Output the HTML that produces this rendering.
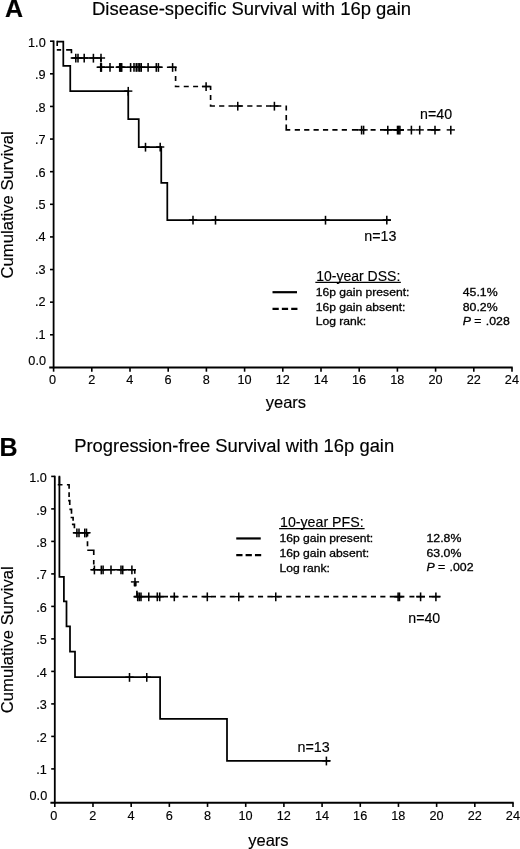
<!DOCTYPE html>
<html><head><meta charset="utf-8"><title>Survival with 16p gain</title>
<style>html,body{margin:0;padding:0;background:#fff;}body{width:520px;height:849px;overflow:hidden;font-family:"Liberation Sans", sans-serif;}svg{display:block;position:absolute;left:0;top:0;will-change:transform;}text{font-family:"Liberation Sans", sans-serif;fill:#000;stroke:#000;stroke-width:0.15px;}</style>
</head><body>
<svg width="520" height="849" viewBox="0 0 520 849">
<rect width="520" height="849" fill="#fff"/>
<path d="M53.6 40.6V368.3" stroke="#000" stroke-width="1.8" fill="none"/>
<path d="M49.2 367.5H512.7" stroke="#000" stroke-width="1.8" fill="none"/>
<path d="M50.0 334.78H53.6" stroke="#000" stroke-width="1.6" fill="none"/>
<text x="45.7" y="338.55" font-size="12.7" text-anchor="end" font-weight="normal" font-style="normal" >.1</text>
<path d="M50.0 302.16H53.6" stroke="#000" stroke-width="1.6" fill="none"/>
<text x="45.7" y="306.15" font-size="12.7" text-anchor="end" font-weight="normal" font-style="normal" >.2</text>
<path d="M50.0 269.54H53.6" stroke="#000" stroke-width="1.6" fill="none"/>
<text x="45.7" y="273.75" font-size="12.7" text-anchor="end" font-weight="normal" font-style="normal" >.3</text>
<path d="M50.0 236.92H53.6" stroke="#000" stroke-width="1.6" fill="none"/>
<text x="45.7" y="241.35" font-size="12.7" text-anchor="end" font-weight="normal" font-style="normal" >.4</text>
<path d="M50.0 204.30H53.6" stroke="#000" stroke-width="1.6" fill="none"/>
<text x="45.7" y="208.95" font-size="12.7" text-anchor="end" font-weight="normal" font-style="normal" >.5</text>
<path d="M50.0 171.68H53.6" stroke="#000" stroke-width="1.6" fill="none"/>
<text x="45.7" y="176.55" font-size="12.7" text-anchor="end" font-weight="normal" font-style="normal" >.6</text>
<path d="M50.0 139.06H53.6" stroke="#000" stroke-width="1.6" fill="none"/>
<text x="45.7" y="144.15" font-size="12.7" text-anchor="end" font-weight="normal" font-style="normal" >.7</text>
<path d="M50.0 106.44H53.6" stroke="#000" stroke-width="1.6" fill="none"/>
<text x="45.7" y="111.75" font-size="12.7" text-anchor="end" font-weight="normal" font-style="normal" >.8</text>
<path d="M50.0 73.82H53.6" stroke="#000" stroke-width="1.6" fill="none"/>
<text x="45.7" y="79.35" font-size="12.7" text-anchor="end" font-weight="normal" font-style="normal" >.9</text>
<path d="M50.0 41.20H53.6" stroke="#000" stroke-width="1.6" fill="none"/>
<text x="45.7" y="46.95" font-size="12.7" text-anchor="end" font-weight="normal" font-style="normal" >1.0</text>
<text x="46.0" y="364.7" font-size="12.7" text-anchor="end" font-weight="normal" font-style="normal" >0.0</text>
<path d="M53.60 367.5V371.7" stroke="#000" stroke-width="1.6" fill="none"/>
<text x="52.50" y="384.35" font-size="12.7" text-anchor="middle" font-weight="normal" font-style="normal" >0</text>
<path d="M91.80 367.5V371.7" stroke="#000" stroke-width="1.6" fill="none"/>
<text x="91.70" y="384.35" font-size="12.7" text-anchor="middle" font-weight="normal" font-style="normal" >2</text>
<path d="M130.00 367.5V371.7" stroke="#000" stroke-width="1.6" fill="none"/>
<text x="129.90" y="384.35" font-size="12.7" text-anchor="middle" font-weight="normal" font-style="normal" >4</text>
<path d="M168.20 367.5V371.7" stroke="#000" stroke-width="1.6" fill="none"/>
<text x="168.10" y="384.35" font-size="12.7" text-anchor="middle" font-weight="normal" font-style="normal" >6</text>
<path d="M206.40 367.5V371.7" stroke="#000" stroke-width="1.6" fill="none"/>
<text x="206.30" y="384.35" font-size="12.7" text-anchor="middle" font-weight="normal" font-style="normal" >8</text>
<path d="M244.60 367.5V371.7" stroke="#000" stroke-width="1.6" fill="none"/>
<text x="244.50" y="384.35" font-size="12.7" text-anchor="middle" font-weight="normal" font-style="normal" >10</text>
<path d="M282.80 367.5V371.7" stroke="#000" stroke-width="1.6" fill="none"/>
<text x="282.70" y="384.35" font-size="12.7" text-anchor="middle" font-weight="normal" font-style="normal" >12</text>
<path d="M321.00 367.5V371.7" stroke="#000" stroke-width="1.6" fill="none"/>
<text x="320.90" y="384.35" font-size="12.7" text-anchor="middle" font-weight="normal" font-style="normal" >14</text>
<path d="M359.20 367.5V371.7" stroke="#000" stroke-width="1.6" fill="none"/>
<text x="359.10" y="384.35" font-size="12.7" text-anchor="middle" font-weight="normal" font-style="normal" >16</text>
<path d="M397.40 367.5V371.7" stroke="#000" stroke-width="1.6" fill="none"/>
<text x="397.30" y="384.35" font-size="12.7" text-anchor="middle" font-weight="normal" font-style="normal" >18</text>
<path d="M435.60 367.5V371.7" stroke="#000" stroke-width="1.6" fill="none"/>
<text x="435.50" y="384.35" font-size="12.7" text-anchor="middle" font-weight="normal" font-style="normal" >20</text>
<path d="M473.80 367.5V371.7" stroke="#000" stroke-width="1.6" fill="none"/>
<text x="473.70" y="384.35" font-size="12.7" text-anchor="middle" font-weight="normal" font-style="normal" >22</text>
<path d="M512.00 367.5V371.7" stroke="#000" stroke-width="1.6" fill="none"/>
<text x="511.90" y="384.35" font-size="12.7" text-anchor="middle" font-weight="normal" font-style="normal" >24</text>
<text x="92.0" y="14.8" font-size="17.6" text-anchor="start" font-weight="normal" font-style="normal" textLength="319.0" lengthAdjust="spacingAndGlyphs">Disease-specific Survival with 16p gain</text>
<text x="5" y="17.0" font-size="25" text-anchor="start" font-weight="bold" font-style="normal" >A</text>
<text transform="translate(13.0 204.9) rotate(-90)" font-size="16.9" text-anchor="middle" textLength="147.0" lengthAdjust="spacingAndGlyphs">Cumulative Survival</text>
<text x="285.9" y="408" font-size="16.5" text-anchor="middle" font-weight="normal" font-style="normal" >years</text>
<path d="M57.20 41.60L63.30 41.60L63.30 65.90L70.25 65.90L70.25 91.10L128.25 91.10L128.25 119.00L138.75 119.00L138.75 147.00L161.25 147.00L161.25 182.80L167.30 182.80L167.30 220.00L390.90 220.00" stroke="#000" stroke-width="1.75" fill="none"/>
<path d="M124.15 91.10H132.35" stroke="#000" stroke-width="1.45" fill="none"/><path d="M128.25 86.90V95.70" stroke="#000" stroke-width="1.55" fill="none"/>
<path d="M141.40 147.00H149.60" stroke="#000" stroke-width="1.45" fill="none"/><path d="M145.50 142.80V151.60" stroke="#000" stroke-width="1.55" fill="none"/>
<path d="M156.10 147.00H164.30" stroke="#000" stroke-width="1.45" fill="none"/><path d="M160.20 142.80V151.60" stroke="#000" stroke-width="1.55" fill="none"/>
<path d="M188.90 220.00H197.10" stroke="#000" stroke-width="1.45" fill="none"/><path d="M193.00 215.80V224.60" stroke="#000" stroke-width="1.55" fill="none"/>
<path d="M211.40 220.00H219.60" stroke="#000" stroke-width="1.45" fill="none"/><path d="M215.50 215.80V224.60" stroke="#000" stroke-width="1.55" fill="none"/>
<path d="M321.40 220.00H329.60" stroke="#000" stroke-width="1.45" fill="none"/><path d="M325.50 215.80V224.60" stroke="#000" stroke-width="1.55" fill="none"/>
<path d="M382.70 220.00H390.90" stroke="#000" stroke-width="1.45" fill="none"/><path d="M386.80 215.80V224.60" stroke="#000" stroke-width="1.55" fill="none"/>
<path d="M57.20 40.70V46.00M56.80 49.80H61.15M66.15 49.80H72.20M71.45 49.80V53.20M70.70 58.00H101.00M101.00 58.00V61.60M101.00 63.80V67.25M100.20 67.25H113.90M116.00 67.25H162.50M166.90 67.25H176.40M175.60 67.25V71.20M175.60 76.10V81.10M175.60 85.60V86.50M174.75 86.50H179.40M183.75 86.50H188.75M193.10 86.50H198.10M201.90 86.50H211.40M210.60 86.50V89.90M210.60 94.90V99.90M210.60 104.40V106.00M209.75 106.00H214.95M219.12 106.00H224.32M228.49 106.00H233.69M237.86 106.00H243.06M247.23 106.00H252.43M256.60 106.00H261.80M265.97 106.00H271.17M275.30 106.00H281.30M286.25 105.50V110.60M286.25 114.90V120.25M286.25 124.50V130.75M285.40 129.90H290.25M294.75 129.90H299.95M304.15 129.90H309.35M313.55 129.90H318.75M322.95 129.90H328.15M332.35 129.90H337.55M341.75 129.90H346.95M351.90 129.90H358.00M370.60 129.90H375.60M380.00 129.90H404.00M427.30 129.90H440.40" stroke="#000" stroke-width="1.65" fill="none"/>
<path d="M71.70 58.00H79.90" stroke="#000" stroke-width="1.45" fill="none"/><path d="M75.80 53.80V62.60" stroke="#000" stroke-width="1.55" fill="none"/>
<path d="M73.90 58.00H82.10" stroke="#000" stroke-width="1.45" fill="none"/><path d="M78.00 53.80V62.60" stroke="#000" stroke-width="1.55" fill="none"/>
<path d="M80.10 58.00H88.30" stroke="#000" stroke-width="1.45" fill="none"/><path d="M84.20 53.80V62.60" stroke="#000" stroke-width="1.55" fill="none"/>
<path d="M89.30 58.00H97.50" stroke="#000" stroke-width="1.45" fill="none"/><path d="M93.40 53.80V62.60" stroke="#000" stroke-width="1.55" fill="none"/>
<path d="M96.90 58.00H105.10" stroke="#000" stroke-width="1.45" fill="none"/><path d="M101.00 53.80V62.60" stroke="#000" stroke-width="1.55" fill="none"/>
<path d="M96.60 67.25H104.80" stroke="#000" stroke-width="1.45" fill="none"/><path d="M100.70 63.05V71.85" stroke="#000" stroke-width="1.55" fill="none"/>
<path d="M97.30 67.25H105.50" stroke="#000" stroke-width="1.45" fill="none"/><path d="M101.40 63.05V71.85" stroke="#000" stroke-width="1.55" fill="none"/>
<path d="M105.90 67.25H114.10" stroke="#000" stroke-width="1.45" fill="none"/><path d="M110.00 63.05V71.85" stroke="#000" stroke-width="1.55" fill="none"/>
<path d="M115.60 67.25H123.80" stroke="#000" stroke-width="1.45" fill="none"/><path d="M119.70 63.05V71.85" stroke="#000" stroke-width="1.55" fill="none"/>
<path d="M116.60 67.25H124.80" stroke="#000" stroke-width="1.45" fill="none"/><path d="M120.70 63.05V71.85" stroke="#000" stroke-width="1.55" fill="none"/>
<path d="M117.60 67.25H125.80" stroke="#000" stroke-width="1.45" fill="none"/><path d="M121.70 63.05V71.85" stroke="#000" stroke-width="1.55" fill="none"/>
<path d="M126.50 67.25H134.70" stroke="#000" stroke-width="1.45" fill="none"/><path d="M130.60 63.05V71.85" stroke="#000" stroke-width="1.55" fill="none"/>
<path d="M129.90 67.25H138.10" stroke="#000" stroke-width="1.45" fill="none"/><path d="M134.00 63.05V71.85" stroke="#000" stroke-width="1.55" fill="none"/>
<path d="M132.15 67.25H140.35" stroke="#000" stroke-width="1.45" fill="none"/><path d="M136.25 63.05V71.85" stroke="#000" stroke-width="1.55" fill="none"/>
<path d="M134.00 67.25H142.20" stroke="#000" stroke-width="1.45" fill="none"/><path d="M138.10 63.05V71.85" stroke="#000" stroke-width="1.55" fill="none"/>
<path d="M135.65 67.25H143.85" stroke="#000" stroke-width="1.45" fill="none"/><path d="M139.75 63.05V71.85" stroke="#000" stroke-width="1.55" fill="none"/>
<path d="M137.15 67.25H145.35" stroke="#000" stroke-width="1.45" fill="none"/><path d="M141.25 63.05V71.85" stroke="#000" stroke-width="1.55" fill="none"/>
<path d="M144.00 67.25H152.20" stroke="#000" stroke-width="1.45" fill="none"/><path d="M148.10 63.05V71.85" stroke="#000" stroke-width="1.55" fill="none"/>
<path d="M152.20 67.25H160.40" stroke="#000" stroke-width="1.45" fill="none"/><path d="M156.30 63.05V71.85" stroke="#000" stroke-width="1.55" fill="none"/>
<path d="M154.30 67.25H162.50" stroke="#000" stroke-width="1.45" fill="none"/><path d="M158.40 63.05V71.85" stroke="#000" stroke-width="1.55" fill="none"/>
<path d="M168.50 67.25H176.70" stroke="#000" stroke-width="1.45" fill="none"/><path d="M172.60 63.05V71.85" stroke="#000" stroke-width="1.55" fill="none"/>
<path d="M202.00 86.50H210.20" stroke="#000" stroke-width="1.45" fill="none"/><path d="M206.10 82.30V91.10" stroke="#000" stroke-width="1.55" fill="none"/>
<path d="M233.65 106.00H241.85" stroke="#000" stroke-width="1.45" fill="none"/><path d="M237.75 101.80V110.60" stroke="#000" stroke-width="1.55" fill="none"/>
<path d="M270.30 106.00H278.50" stroke="#000" stroke-width="1.45" fill="none"/><path d="M274.40 101.80V110.60" stroke="#000" stroke-width="1.55" fill="none"/>
<path d="M357.50 129.90H365.70" stroke="#000" stroke-width="1.45" fill="none"/><path d="M361.60 125.70V134.50" stroke="#000" stroke-width="1.55" fill="none"/>
<path d="M359.50 129.90H367.70" stroke="#000" stroke-width="1.45" fill="none"/><path d="M363.60 125.70V134.50" stroke="#000" stroke-width="1.55" fill="none"/>
<path d="M383.70 129.90H391.90" stroke="#000" stroke-width="1.45" fill="none"/><path d="M387.80 125.70V134.50" stroke="#000" stroke-width="1.55" fill="none"/>
<path d="M393.40 129.90H401.60" stroke="#000" stroke-width="1.45" fill="none"/><path d="M397.50 125.70V134.50" stroke="#000" stroke-width="1.55" fill="none"/>
<path d="M394.60 129.90H402.80" stroke="#000" stroke-width="1.45" fill="none"/><path d="M398.70 125.70V134.50" stroke="#000" stroke-width="1.55" fill="none"/>
<path d="M395.80 129.90H404.00" stroke="#000" stroke-width="1.45" fill="none"/><path d="M399.90 125.70V134.50" stroke="#000" stroke-width="1.55" fill="none"/>
<path d="M407.30 129.90H415.50" stroke="#000" stroke-width="1.45" fill="none"/><path d="M411.40 125.70V134.50" stroke="#000" stroke-width="1.55" fill="none"/>
<path d="M415.60 129.90H423.80" stroke="#000" stroke-width="1.45" fill="none"/><path d="M419.70 125.70V134.50" stroke="#000" stroke-width="1.55" fill="none"/>
<path d="M430.90 129.90H439.10" stroke="#000" stroke-width="1.45" fill="none"/><path d="M435.00 125.70V134.50" stroke="#000" stroke-width="1.55" fill="none"/>
<path d="M446.70 129.90H454.90" stroke="#000" stroke-width="1.45" fill="none"/><path d="M450.80 125.70V134.50" stroke="#000" stroke-width="1.55" fill="none"/>
<text x="420.1" y="118.5" font-size="14.2" text-anchor="start" font-weight="normal" font-style="normal" >n=40</text>
<text x="364.3" y="241.4" font-size="14.3" text-anchor="start" font-weight="normal" font-style="normal" >n=13</text>
<text x="316.25" y="280.5" font-size="14" text-anchor="start" font-weight="normal" font-style="normal" >10-year DSS:</text>
<path d="M315.35 282.35H400.85" stroke="#000" stroke-width="1.1" fill="none"/>
<text transform="translate(315.65 295.65) scale(1.075 1)" font-size="11.3" style="stroke-width:0.3px">16p gain present:</text>
<text transform="translate(315.65 310.7) scale(1.075 1)" font-size="11.3" style="stroke-width:0.3px">16p gain absent:</text>
<text transform="translate(315.65 325.3) scale(1.075 1)" font-size="11.3" style="stroke-width:0.3px">Log rank:</text>
<text transform="translate(462.75 295.6) scale(1.075 1)" font-size="11.45" style="stroke-width:0.3px">45.1%</text>
<text transform="translate(462.75 310.5) scale(1.075 1)" font-size="11.45" style="stroke-width:0.3px">80.2%</text>
<text transform="translate(462.75 325.1) scale(1.075 1)" font-size="11.45" style="stroke-width:0.3px"><tspan font-style="italic">P</tspan> = <tspan dx="0.8">.028</tspan></text>
<path d="M272.5 292.2H297.0" stroke="#000" stroke-width="2.2" fill="none"/>
<path d="M272.5 308.8H297.5" stroke="#000" stroke-width="2.2" fill="none" stroke-dasharray="6.25 3.1"/>
<path d="M54.8 475.79999999999995V803.55" stroke="#000" stroke-width="1.8" fill="none"/>
<path d="M50.4 802.75H513.7" stroke="#000" stroke-width="1.8" fill="none"/>
<path d="M51.199999999999996 768.90H54.8" stroke="#000" stroke-width="1.6" fill="none"/>
<text x="46.9" y="773.93" font-size="12.7" text-anchor="end" font-weight="normal" font-style="normal" >.1</text>
<path d="M51.199999999999996 736.40H54.8" stroke="#000" stroke-width="1.6" fill="none"/>
<text x="46.9" y="741.51" font-size="12.7" text-anchor="end" font-weight="normal" font-style="normal" >.2</text>
<path d="M51.199999999999996 703.90H54.8" stroke="#000" stroke-width="1.6" fill="none"/>
<text x="46.9" y="709.09" font-size="12.7" text-anchor="end" font-weight="normal" font-style="normal" >.3</text>
<path d="M51.199999999999996 671.40H54.8" stroke="#000" stroke-width="1.6" fill="none"/>
<text x="46.9" y="676.67" font-size="12.7" text-anchor="end" font-weight="normal" font-style="normal" >.4</text>
<path d="M51.199999999999996 638.90H54.8" stroke="#000" stroke-width="1.6" fill="none"/>
<text x="46.9" y="644.25" font-size="12.7" text-anchor="end" font-weight="normal" font-style="normal" >.5</text>
<path d="M51.199999999999996 606.40H54.8" stroke="#000" stroke-width="1.6" fill="none"/>
<text x="46.9" y="611.83" font-size="12.7" text-anchor="end" font-weight="normal" font-style="normal" >.6</text>
<path d="M51.199999999999996 573.90H54.8" stroke="#000" stroke-width="1.6" fill="none"/>
<text x="46.9" y="579.41" font-size="12.7" text-anchor="end" font-weight="normal" font-style="normal" >.7</text>
<path d="M51.199999999999996 541.40H54.8" stroke="#000" stroke-width="1.6" fill="none"/>
<text x="46.9" y="546.99" font-size="12.7" text-anchor="end" font-weight="normal" font-style="normal" >.8</text>
<path d="M51.199999999999996 508.90H54.8" stroke="#000" stroke-width="1.6" fill="none"/>
<text x="46.9" y="514.57" font-size="12.7" text-anchor="end" font-weight="normal" font-style="normal" >.9</text>
<path d="M51.199999999999996 476.40H54.8" stroke="#000" stroke-width="1.6" fill="none"/>
<text x="46.9" y="482.15" font-size="12.7" text-anchor="end" font-weight="normal" font-style="normal" >1.0</text>
<text x="47.199999999999996" y="799.6" font-size="12.7" text-anchor="end" font-weight="normal" font-style="normal" >0.0</text>
<path d="M54.80 802.75V806.95" stroke="#000" stroke-width="1.6" fill="none"/>
<text x="53.70" y="819.7" font-size="12.7" text-anchor="middle" font-weight="normal" font-style="normal" >0</text>
<path d="M92.98 802.75V806.95" stroke="#000" stroke-width="1.6" fill="none"/>
<text x="92.88" y="819.7" font-size="12.7" text-anchor="middle" font-weight="normal" font-style="normal" >2</text>
<path d="M131.17 802.75V806.95" stroke="#000" stroke-width="1.6" fill="none"/>
<text x="131.07" y="819.7" font-size="12.7" text-anchor="middle" font-weight="normal" font-style="normal" >4</text>
<path d="M169.35 802.75V806.95" stroke="#000" stroke-width="1.6" fill="none"/>
<text x="169.25" y="819.7" font-size="12.7" text-anchor="middle" font-weight="normal" font-style="normal" >6</text>
<path d="M207.53 802.75V806.95" stroke="#000" stroke-width="1.6" fill="none"/>
<text x="207.43" y="819.7" font-size="12.7" text-anchor="middle" font-weight="normal" font-style="normal" >8</text>
<path d="M245.72 802.75V806.95" stroke="#000" stroke-width="1.6" fill="none"/>
<text x="245.62" y="819.7" font-size="12.7" text-anchor="middle" font-weight="normal" font-style="normal" >10</text>
<path d="M283.90 802.75V806.95" stroke="#000" stroke-width="1.6" fill="none"/>
<text x="283.80" y="819.7" font-size="12.7" text-anchor="middle" font-weight="normal" font-style="normal" >12</text>
<path d="M322.08 802.75V806.95" stroke="#000" stroke-width="1.6" fill="none"/>
<text x="321.98" y="819.7" font-size="12.7" text-anchor="middle" font-weight="normal" font-style="normal" >14</text>
<path d="M360.27 802.75V806.95" stroke="#000" stroke-width="1.6" fill="none"/>
<text x="360.17" y="819.7" font-size="12.7" text-anchor="middle" font-weight="normal" font-style="normal" >16</text>
<path d="M398.45 802.75V806.95" stroke="#000" stroke-width="1.6" fill="none"/>
<text x="398.35" y="819.7" font-size="12.7" text-anchor="middle" font-weight="normal" font-style="normal" >18</text>
<path d="M436.63 802.75V806.95" stroke="#000" stroke-width="1.6" fill="none"/>
<text x="436.53" y="819.7" font-size="12.7" text-anchor="middle" font-weight="normal" font-style="normal" >20</text>
<path d="M474.82 802.75V806.95" stroke="#000" stroke-width="1.6" fill="none"/>
<text x="474.72" y="819.7" font-size="12.7" text-anchor="middle" font-weight="normal" font-style="normal" >22</text>
<path d="M513.00 802.75V806.95" stroke="#000" stroke-width="1.6" fill="none"/>
<text x="512.90" y="819.7" font-size="12.7" text-anchor="middle" font-weight="normal" font-style="normal" >24</text>
<text x="74.2" y="451.75" font-size="17.6" text-anchor="start" font-weight="normal" font-style="normal" textLength="320.0" lengthAdjust="spacingAndGlyphs">Progression-free Survival with 16p gain</text>
<text x="-0.5" y="456.2" font-size="25" text-anchor="start" font-weight="bold" font-style="normal" >B</text>
<text transform="translate(13.0 639.7) rotate(-90)" font-size="16.9" text-anchor="middle" textLength="147.0" lengthAdjust="spacingAndGlyphs">Cumulative Survival</text>
<text x="268.4" y="845.5" font-size="16.5" text-anchor="middle" font-weight="normal" font-style="normal" >years</text>
<path d="M59.40 476.50L59.40 576.90L63.90 576.90L63.90 601.40L66.50 601.40L66.50 626.30L70.00 626.30L70.00 651.70L75.00 651.70L75.00 677.20L160.10 677.20L160.10 718.80L227.00 718.80L227.00 760.80L330.30 760.80" stroke="#000" stroke-width="1.75" fill="none"/>
<path d="M125.40 677.20H133.60" stroke="#000" stroke-width="1.45" fill="none"/><path d="M129.50 673.00V681.80" stroke="#000" stroke-width="1.55" fill="none"/>
<path d="M142.65 677.20H150.85" stroke="#000" stroke-width="1.45" fill="none"/><path d="M146.75 673.00V681.80" stroke="#000" stroke-width="1.55" fill="none"/>
<path d="M322.30 760.80H330.50" stroke="#000" stroke-width="1.45" fill="none"/><path d="M326.40 756.60V765.40" stroke="#000" stroke-width="1.55" fill="none"/>
<path d="M59.40 475.70V484.75M57.75 484.75H62.50M66.90 484.75H69.90M69.10 484.75V488.75M69.10 492.25V496.90M68.10 500.60H70.60M69.75 500.60V505.00M69.40 509.40H72.35M71.50 509.40V513.75M70.60 517.50H73.95M73.10 517.50V520.80M71.90 524.40H75.25M74.40 524.40V528.20M73.10 532.75H89.75M87.50 532.75V536.50M87.50 541.25V546.25M87.25 550.25H94.60M93.75 550.25V555.00M93.75 560.00V564.40M93.75 568.00V569.75M91.25 569.75H135.60M134.75 569.75V573.75M134.50 582.60V586.30M135.80 581.90V586.30M136.90 590.70V596.65M133.75 596.65H168.00M170.20 596.65H178.30M182.70 596.65H187.80M192.11 596.65H197.21M201.52 596.65H206.62M210.93 596.65H216.03M220.34 596.65H225.44M229.75 596.65H234.85M239.16 596.65H244.26M248.57 596.65H253.67M257.98 596.65H263.08M267.39 596.65H272.49M276.80 596.65H281.90M286.21 596.65H291.31M295.62 596.65H300.72M305.03 596.65H310.13M314.44 596.65H319.54M323.85 596.65H328.95M333.26 596.65H338.36M342.67 596.65H347.77M352.08 596.65H357.18M361.49 596.65H366.59M370.90 596.65H376.00M380.31 596.65H385.41M389.72 596.65H390.00M390.00 596.65H404.40M409.40 596.65H414.40M416.25 596.65H425.00M429.00 596.65H440.60" stroke="#000" stroke-width="1.65" fill="none"/>
<path d="M72.80 532.75H81.00" stroke="#000" stroke-width="1.45" fill="none"/><path d="M76.90 528.55V537.35" stroke="#000" stroke-width="1.55" fill="none"/>
<path d="M74.90 532.75H83.10" stroke="#000" stroke-width="1.45" fill="none"/><path d="M79.00 528.55V537.35" stroke="#000" stroke-width="1.55" fill="none"/>
<path d="M80.65 532.75H88.85" stroke="#000" stroke-width="1.45" fill="none"/><path d="M84.75 528.55V537.35" stroke="#000" stroke-width="1.55" fill="none"/>
<path d="M82.40 532.75H90.60" stroke="#000" stroke-width="1.45" fill="none"/><path d="M86.50 528.55V537.35" stroke="#000" stroke-width="1.55" fill="none"/>
<path d="M90.30 569.75H98.50" stroke="#000" stroke-width="1.45" fill="none"/><path d="M94.40 565.55V574.35" stroke="#000" stroke-width="1.55" fill="none"/>
<path d="M97.20 569.75H105.40" stroke="#000" stroke-width="1.45" fill="none"/><path d="M101.30 565.55V574.35" stroke="#000" stroke-width="1.55" fill="none"/>
<path d="M99.00 569.75H107.20" stroke="#000" stroke-width="1.45" fill="none"/><path d="M103.10 565.55V574.35" stroke="#000" stroke-width="1.55" fill="none"/>
<path d="M106.90 569.75H115.10" stroke="#000" stroke-width="1.45" fill="none"/><path d="M111.00 565.55V574.35" stroke="#000" stroke-width="1.55" fill="none"/>
<path d="M116.90 569.75H125.10" stroke="#000" stroke-width="1.45" fill="none"/><path d="M121.00 565.55V574.35" stroke="#000" stroke-width="1.55" fill="none"/>
<path d="M118.65 569.75H126.85" stroke="#000" stroke-width="1.45" fill="none"/><path d="M122.75 565.55V574.35" stroke="#000" stroke-width="1.55" fill="none"/>
<path d="M127.80 569.75H136.00" stroke="#000" stroke-width="1.45" fill="none"/><path d="M131.90 565.55V574.35" stroke="#000" stroke-width="1.55" fill="none"/>
<path d="M130.90 581.90H139.10" stroke="#000" stroke-width="1.45" fill="none"/><path d="M135.00 577.70V586.50" stroke="#000" stroke-width="1.55" fill="none"/>
<path d="M133.60 596.65H141.80" stroke="#000" stroke-width="1.45" fill="none"/><path d="M137.70 592.45V601.25" stroke="#000" stroke-width="1.55" fill="none"/>
<path d="M135.20 596.65H143.40" stroke="#000" stroke-width="1.45" fill="none"/><path d="M139.30 592.45V601.25" stroke="#000" stroke-width="1.55" fill="none"/>
<path d="M136.90 596.65H145.10" stroke="#000" stroke-width="1.45" fill="none"/><path d="M141.00 592.45V601.25" stroke="#000" stroke-width="1.55" fill="none"/>
<path d="M144.65 596.65H152.85" stroke="#000" stroke-width="1.45" fill="none"/><path d="M148.75 592.45V601.25" stroke="#000" stroke-width="1.55" fill="none"/>
<path d="M153.20 596.65H161.40" stroke="#000" stroke-width="1.45" fill="none"/><path d="M157.30 592.45V601.25" stroke="#000" stroke-width="1.55" fill="none"/>
<path d="M155.60 596.65H163.80" stroke="#000" stroke-width="1.45" fill="none"/><path d="M159.70 592.45V601.25" stroke="#000" stroke-width="1.55" fill="none"/>
<path d="M170.20 596.65H178.40" stroke="#000" stroke-width="1.45" fill="none"/><path d="M174.30 592.45V601.25" stroke="#000" stroke-width="1.55" fill="none"/>
<path d="M203.20 596.65H211.40" stroke="#000" stroke-width="1.45" fill="none"/><path d="M207.30 592.45V601.25" stroke="#000" stroke-width="1.55" fill="none"/>
<path d="M234.65 596.65H242.85" stroke="#000" stroke-width="1.45" fill="none"/><path d="M238.75 592.45V601.25" stroke="#000" stroke-width="1.55" fill="none"/>
<path d="M271.65 596.65H279.85" stroke="#000" stroke-width="1.45" fill="none"/><path d="M275.75 592.45V601.25" stroke="#000" stroke-width="1.55" fill="none"/>
<path d="M394.00 596.65H402.20" stroke="#000" stroke-width="1.45" fill="none"/><path d="M398.10 592.45V601.25" stroke="#000" stroke-width="1.55" fill="none"/>
<path d="M395.40 596.65H403.60" stroke="#000" stroke-width="1.45" fill="none"/><path d="M399.50 592.45V601.25" stroke="#000" stroke-width="1.55" fill="none"/>
<path d="M416.50 596.65H424.70" stroke="#000" stroke-width="1.45" fill="none"/><path d="M420.60 592.45V601.25" stroke="#000" stroke-width="1.55" fill="none"/>
<path d="M431.80 596.65H440.00" stroke="#000" stroke-width="1.45" fill="none"/><path d="M435.90 592.45V601.25" stroke="#000" stroke-width="1.55" fill="none"/>
<text x="408.3" y="623.3" font-size="14.2" text-anchor="start" font-weight="normal" font-style="normal" >n=40</text>
<text x="297.5" y="751.9" font-size="14.3" text-anchor="start" font-weight="normal" font-style="normal" >n=13</text>
<text x="280" y="526.75" font-size="14.2" text-anchor="start" font-weight="normal" font-style="normal" >10-year PFS:</text>
<path d="M279.1 528.6H364.6" stroke="#000" stroke-width="1.1" fill="none"/>
<text transform="translate(279.40 541.9) scale(1.075 1)" font-size="11.3" style="stroke-width:0.3px">16p gain present:</text>
<text transform="translate(279.40 556.95) scale(1.075 1)" font-size="11.3" style="stroke-width:0.3px">16p gain absent:</text>
<text transform="translate(279.40 571.55) scale(1.075 1)" font-size="11.3" style="stroke-width:0.3px">Log rank:</text>
<text transform="translate(426.50 541.85) scale(1.075 1)" font-size="11.45" style="stroke-width:0.3px">12.8%</text>
<text transform="translate(426.50 556.75) scale(1.075 1)" font-size="11.45" style="stroke-width:0.3px">63.0%</text>
<text transform="translate(426.50 571.35) scale(1.075 1)" font-size="11.45" style="stroke-width:0.3px"><tspan font-style="italic">P</tspan> = <tspan dx="0.8">.002</tspan></text>
<path d="M236.25 538.45H260.75" stroke="#000" stroke-width="2.2" fill="none"/>
<path d="M236.25 555.05H261.25" stroke="#000" stroke-width="2.2" fill="none" stroke-dasharray="6.25 3.1"/>
</svg></body></html>
